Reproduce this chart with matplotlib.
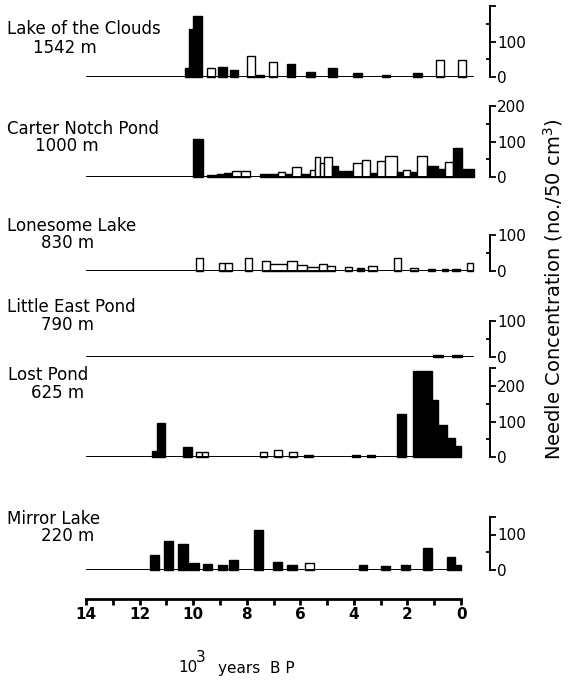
import matplotlib
matplotlib.use("Agg")
import matplotlib.pyplot as plt

# needle concentration histograms, 10^3 yr BP (older edge, younger edge)
# filled = 1 black bar, 0 open bar

# Lake of the Clouds
lc_old = [10.32, 10.14, 9.99, 9.47, 9.08, 8.62, 8.00, 7.69, 7.16, 6.50, 5.80, 4.95, 4.02, 2.96, 1.78, 0.93, 0.10]
lc_young = [10.14, 9.99, 9.68, 9.18, 8.72, 8.31, 7.69, 7.37, 6.88, 6.19, 5.47, 4.64, 3.71, 2.65, 1.47, 0.63, -0.19]
lc_val = [24, 134, 172, 26, 28, 21, 59, 6, 41, 36, 14, 24, 10, 7, 12, 49, 49]
lc_fill = [1, 1, 1, 0, 1, 1, 0, 1, 0, 1, 1, 1, 1, 1, 1, 0, 0]

# Carter Notch Pond
cn_old = [9.99, 9.47, 9.12, 8.84, 8.55, 8.20, 7.50, 6.82, 6.57, 6.32, 5.98, 5.63, 5.45, 5.26, 5.11,
          4.83, 4.58, 4.02, 3.71, 3.40, 3.15, 2.84, 2.40, 2.15, 1.90, 1.65, 1.28, 0.85, 0.60, 0.29, -0.02]
cn_young = [9.64, 9.12, 8.84, 8.55, 8.20, 7.87, 6.82, 6.57, 6.32, 5.98, 5.63, 5.45, 5.26, 5.11, 4.83,
            4.58, 4.02, 3.71, 3.40, 3.15, 2.84, 2.40, 2.15, 1.90, 1.65, 1.28, 0.85, 0.60, 0.29, -0.02, -0.49]
cn_val = [108, 6, 9, 12, 18, 18, 8, 15, 9, 28, 8, 20, 55, 40, 55,
          30, 18, 40, 48, 10, 46, 60, 15, 20, 15, 60, 30, 22, 42, 83, 22]
cn_fill = [1, 1, 1, 1, 0, 0, 1, 0, 1, 0, 1, 0, 0, 0, 0,
           1, 1, 0, 0, 1, 0, 0, 1, 0, 1, 0, 1, 1, 0, 1, 1]

# Lonesome Lake
ll_old = [9.90, 9.05, 8.80, 8.06, 7.44, 7.13, 6.50, 6.13, 5.76, 5.32, 5.01, 4.33, 3.90, 3.46,
          2.50, 1.90, 1.22, 0.72, 0.35, -0.21]
ll_young = [9.64, 8.80, 8.56, 7.81, 7.13, 6.50, 6.13, 5.76, 5.32, 5.01, 4.70, 4.08, 3.64, 3.15,
            2.25, 1.59, 0.97, 0.47, 0.04, -0.46]
ll_val = [38, 22, 22, 38, 28, 20, 28, 16, 11, 20, 14, 11, 8, 14, 38, 9, 7, 7, 7, 22]
ll_fill = [0, 0, 0, 0, 0, 0, 0, 0, 0, 0, 0, 0, 1, 0, 0, 0, 1, 1, 1, 0]

# Little East Pond
le_old = [1.03, 0.35]
le_young = [0.66, -0.02]
le_val = [6, 6]
le_fill = [1, 1]

# Lost Pond
lp_old = [11.54, 11.36, 10.39, 9.89, 9.68, 7.50, 7.00, 6.44, 5.86, 4.08, 3.52, 2.40, 1.80, 1.09, 0.85, 0.53, 0.22]
lp_young = [11.36, 11.05, 10.05, 9.68, 9.43, 7.25, 6.69, 6.13, 5.51, 3.77, 3.21, 2.05, 1.09, 0.85, 0.53, 0.22, 0.00]
lp_val = [17, 97, 29, 15, 15, 15, 21, 13, 7, 5, 5, 121, 243, 160, 91, 54, 31]
lp_fill = [1, 1, 1, 0, 0, 0, 0, 0, 0, 1, 1, 1, 1, 1, 1, 1, 1]

# Mirror Lake
ml_old = [11.60, 11.08, 10.55, 10.15, 9.65, 9.06, 8.65, 7.72, 7.03, 6.48, 5.82, 3.81, 3.00, 2.24, 1.43, 0.53, 0.22]
ml_young = [11.27, 10.76, 10.21, 9.80, 9.30, 8.72, 8.31, 7.38, 6.69, 6.13, 5.49, 3.50, 2.65, 1.90, 1.09, 0.22, 0.00]
ml_val = [41, 83, 72, 21, 18, 14, 29, 113, 22, 15, 21, 13, 12, 14, 62, 37, 13]
ml_fill = [1, 1, 1, 1, 1, 1, 1, 1, 1, 1, 0, 1, 1, 1, 1, 1, 1]

names = ["Lake of the Clouds", "Carter Notch Pond", "Lonesome Lake", "Little East Pond", "Lost Pond", "Mirror Lake"]
elev = ["1542 m", "1000 m", "830 m", "790 m", "625 m", "220 m"]

W, H = 574, 684
fig = plt.figure(figsize=(W / 100, H / 100), dpi=100)

X0, X1 = 86, 490          # pixels for 14 kyr and -1.08 kyr
scale = 0.355             # pixels per concentration unit

def px_axes(left, top, right, bottom):
    return fig.add_axes([left / W, 1 - bottom / H, (right - left) / W, (bottom - top) / H])

panels = [
    (lc_old, lc_young, lc_val, lc_fill, 77, 200, [0, 100, 200], ["0", "100", ""], [50, 150], -0.5, 7, 29, 33, 48),
    (cn_old, cn_young, cn_val, cn_fill, 177, 200, [0, 100, 200], ["0", "100", "200"], [50, 150], -0.5, 7, 129, 35, 146),
    (ll_old, ll_young, ll_val, ll_fill, 271, 100, [0, 100], ["0", "100"], [50], -0.5, 7, 226, 41, 243),
    (le_old, le_young, le_val, le_fill, 357, 100, [0, 100], ["0", "100"], [50], -0.5, 7, 307, 41, 325),
    (lp_old, lp_young, lp_val, lp_fill, 457, 250, [0, 100, 200, 250], ["0", "100", "200", ""], [50, 150], 0.0, 8, 375, 31, 393),
    (ml_old, ml_young, ml_val, ml_fill, 570, 150, [0, 100, 150], ["0", "100", ""], [50], 0.0, 7, 519, 41, 536),
]

for i, (old, young, val, fill, base, top, maj, lab, mnr, xend, tx, ty, ex, ey) in enumerate(panels):
    ax = px_axes(X0, base - top * scale, X1, base)
    for o, y, v, f in zip(old, young, val, fill):
        ax.bar(y, v, width=o - y, bottom=0, align="edge", color="black" if f else "white",
               edgecolor="black", linewidth=1.0, clip_on=False)
    ax.hlines(0, 14, xend, color="black", lw=1.4)
    ax.set_xlim(14, -1.08)
    ax.set_ylim(0, top)
    for s in ["top", "bottom", "left"]:
        ax.spines[s].set_visible(False)
    ax.spines["right"].set_bounds(0, top)
    ax.spines["right"].set_linewidth(1.4)
    ax.set_xticks([])
    ax.yaxis.tick_right()
    ax.set_yticks(maj)
    ax.set_yticklabels(lab)
    ax.set_yticks(mnr, minor=True)
    ax.tick_params(axis="y", which="major", direction="out", length=4, width=1.3, labelsize=11, pad=1)
    ax.tick_params(axis="y", which="minor", direction="in", length=3, width=1.3)
    ax.patch.set_visible(False)
    fig.text(tx / W, 1 - ty / H, names[i], fontsize=12, va="center", ha="left")
    fig.text(ex / W, 1 - ey / H, elev[i], fontsize=12, va="center", ha="left")

# time axis
axb = px_axes(X0, 595, X1, 599)
axb.set_xlim(14, -1.08)
axb.set_ylim(0, 1)
for s in ["top", "left", "right"]:
    axb.spines[s].set_visible(False)
axb.spines["bottom"].set_bounds(0, 14)
axb.spines["bottom"].set_linewidth(2)
axb.set_yticks([])
axb.set_xticks(range(0, 15, 2))
axb.set_xticks(range(1, 15, 2), minor=True)
axb.tick_params(axis="x", which="both", direction="out", length=4, width=2, labelsize=11, pad=2)
for t in axb.get_xticklabels():
    t.set_fontweight("bold")
axb.patch.set_visible(False)

fig.text(178 / W, 1 - 668 / H, "10", fontsize=11, va="center", ha="left")
fig.text(196 / W, 1 - 657 / H, "3", fontsize=11, va="center", ha="left")
fig.text(218 / W, 1 - 668 / H, "years  B P", fontsize=11, va="center", ha="left")

fig.text(553 / W, 1 - 289 / H, "Needle Concentration (no./50 cm$^{3}$)", fontsize=14,
         rotation=90, va="center", ha="center")

fig.savefig("out.png", dpi=100)
